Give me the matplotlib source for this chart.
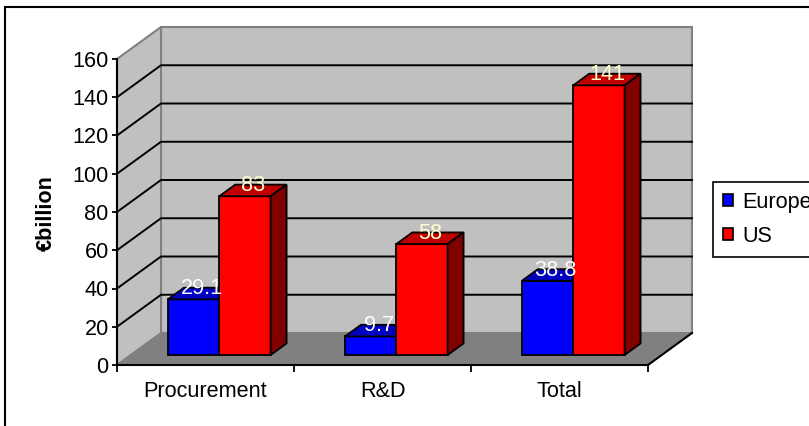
import matplotlib
matplotlib.use("Agg")
import matplotlib.pyplot as plt
from matplotlib.patches import Polygon, Rectangle, Patch
import numpy as np

categories = ["Procurement", "R&D", "Total"]
series_names = ["Europe", "US"]
europe = [29.1, 9.7, 38.8]
us = [83, 58, 141]
y_ticks = [0, 20, 40, 60, 80, 100, 120, 140, 160]

plt.rcParams["font.family"] = ["Liberation Sans", "DejaVu Sans"]

FONT = 15.6
# oblique depth of the plot box, in data units (x: categories, y: values)
DX = 0.2486
DY = 16.73
BAR_FRONT = 0.3125   # depth fraction of the bar front faces
BAR_BACK = 0.676     # depth fraction of the bar back faces
BAR_W = 0.29
GROUP_LEFT = 0.21

series_styles = [
    # front, top, side, label colour
    ("#0000FF", "#0000C0", "#000080", "white"),
    ("#FF0000", "#C00000", "#800000", "#FFFFCC"),
]

fig = plt.figure(figsize=(8.09, 4.26), dpi=100, facecolor="white")
ax = fig.add_axes([117 / 809, 61 / 426, 531 / 809, 306 / 426])
ax.set_xlim(0, len(categories))
ax.set_ylim(y_ticks[0], y_ticks[-1])
ax.patch.set_visible(False)

ymax = y_ticks[-1]
nx = len(categories)

# walls and floor
back = Polygon([(DX, DY), (nx + DX, DY), (nx + DX, ymax + DY), (DX, ymax + DY)],
               closed=True, fc="#C0C0C0", ec="#808080", lw=1.5, zorder=0.5, clip_on=False)
side = Polygon([(0, 0), (DX, DY), (DX, ymax + DY), (0, ymax)],
               closed=True, fc="#C0C0C0", ec="#808080", lw=1.5, zorder=0.5, clip_on=False)
floor = Polygon([(0, 0), (nx, 0), (nx + DX, DY), (DX, DY)],
                closed=True, fc="#808080", ec="none", zorder=0.6, clip_on=False)
for p in (back, side, floor):
    ax.add_patch(p)
ax.plot([nx, nx + DX], [0, DY], color="black", lw=1.5, zorder=0.7, clip_on=False)

# gridlines bent round the side wall
for v in y_ticks[1:-1]:
    ax.plot([0, DX, nx + DX], [v, v + DY, v + DY], color="black", lw=1.4,
            zorder=1, clip_on=False)

x = np.arange(nx)
ddx = (BAR_BACK - BAR_FRONT) * DX
ddy = (BAR_BACK - BAR_FRONT) * DY
mid = (BAR_FRONT + BAR_BACK) / 2

for k, (vals, (c_front, c_top, c_side, c_lab)) in enumerate(zip([europe, us], series_styles)):
    lefts = x + GROUP_LEFT + k * BAR_W + BAR_FRONT * DX
    bars = ax.bar(lefts, vals, width=BAR_W, bottom=BAR_FRONT * DY, align="edge",
                  color=c_front, edgecolor="black", lw=1.3, zorder=3 + k, clip_on=False)
    for rect, v in zip(bars, vals):
        xl = rect.get_x()
        xr = xl + rect.get_width()
        yb = rect.get_y()
        yt = yb + rect.get_height()
        ax.add_patch(Polygon([(xl, yt), (xr, yt), (xr + ddx, yt + ddy), (xl + ddx, yt + ddy)],
                             closed=True, fc=c_top, ec="black", lw=1.3, zorder=3 + k, clip_on=False))
        ax.add_patch(Polygon([(xr, yb), (xr + ddx, yb + ddy), (xr + ddx, yt + ddy), (xr, yt)],
                             closed=True, fc=c_side, ec="black", lw=1.3, zorder=3 + k, clip_on=False))
        ax.text(xl + BAR_W / 2 + (mid - BAR_FRONT) * DX, v + mid * DY + 2.6, f"{v:g}",
                ha="center", va="center", color=c_lab, fontsize=FONT, zorder=10)

# axes
for s in ("top", "right"):
    ax.spines[s].set_visible(False)
for s in ("left", "bottom"):
    ax.spines[s].set_linewidth(1.5)
    ax.spines[s].set_zorder(2)

ax.set_yticks(y_ticks)
ax.tick_params(axis="y", direction="out", length=3.5, width=1.3, pad=2.5, labelsize=FONT)
ax.set_xticks(np.arange(nx + 1))
ax.set_xticklabels([])
ax.tick_params(axis="x", which="major", direction="out", length=5, width=1.3)
ax.set_xticks(x + 0.5, minor=True)
ax.set_xticklabels(categories, minor=True)
ax.tick_params(axis="x", which="minor", length=0, pad=11.5, labelsize=FONT)

fig.text(46.5 / 809, 1 - 213 / 426, "€billion", rotation=90, ha="center", va="center",
         fontsize=FONT, fontweight="bold")

handles = [Patch(facecolor=st[0], edgecolor="black", lw=1.2, label=n)
           for st, n in zip(series_styles, series_names)]
leg = fig.legend(handles=handles, loc="upper left", bbox_to_anchor=(713 / 809, 1 - 182 / 426),
                 frameon=True, fancybox=False, edgecolor="black", framealpha=1,
                 fontsize=FONT, handlelength=0.48, handleheight=0.48, handletextpad=0.42,
                 borderpad=0.45, labelspacing=0.6, borderaxespad=0)
leg.get_frame().set_linewidth(1.2)

# chart border, running off the right and bottom edges
fig.patches.append(Rectangle((5 / 809, -0.2), 1.2, 1.2 - 7 / 426, transform=fig.transFigure,
                             fill=False, ec="black", lw=1.5, zorder=0))

fig.savefig("out.png", dpi=100, facecolor="white")
